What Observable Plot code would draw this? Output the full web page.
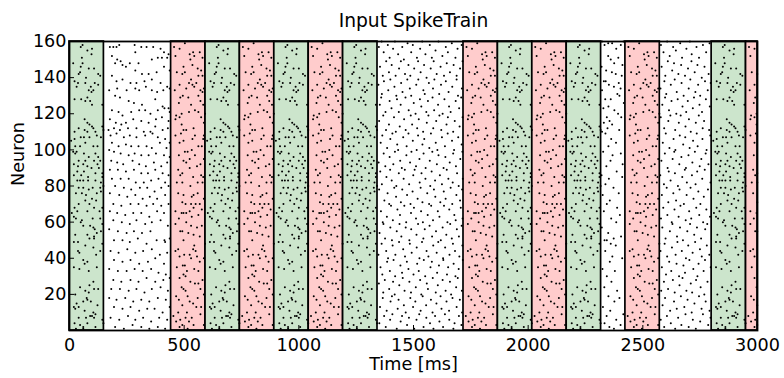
<!DOCTYPE html>
<html><head><meta charset="utf-8">
<script src="https://cdn.jsdelivr.net/npm/d3@7"></script>
<script src="https://cdn.jsdelivr.net/npm/@observablehq/plot@0.6"></script>
<style>body{margin:0;background:#fff}</style>
</head><body><div id="chart"></div>
<script>
const title = "Input SpikeTrain";
const xLabel = "Time [ms]";
const yLabel = "Neuron";
const xTicks = [0, 500, 1000, 1500, 2000, 2500, 3000];
const yTicks = [20, 40, 60, 80, 100, 120, 140, 160];

// pattern bands (ms)
const bandStart = [0, 443, 593, 743, 893, 1043, 1193, 1718, 1868, 2018, 2168, 2424, 2800, 2950];
const bandEnd   = [150, 593, 743, 893, 1043, 1193, 1343, 1868, 2018, 2168, 2318, 2574, 2950, 3000];
const bandKind  = ["green","red","green","red","green","red","green","red","green","red","green","red","green","red"];
const bandColor = {green: "#cce5cc", red: "#ffcccc"};

// repeated spike patterns: [ms from band start, neuron]
const greenPattern = [[57,158],[49,157],[98,156],[78,155],[96,153],[54,151],[16,148],[57,148],[49,146],[84,145],[107,145],[46,143],[40,142],[125,142],[72,140],[134,141],[22,138],[37,137],[69,137],[110,137],[125,136],[31,135],[93,135],[84,133],[104,133],[96,132],[78,129],[22,128],[51,128],[69,127],[90,127],[98,125],[143,125],[66,117],[78,115],[87,114],[98,113],[40,112],[66,111],[104,112],[143,113],[148,111],[22,110],[78,110],[113,110],[49,107],[63,107],[87,107],[119,108],[137,107],[22,106],[7,105],[69,104],[104,102],[25,102],[46,102],[122,102],[16,99],[31,99],[25,98],[63,98],[113,98],[84,96],[125,96],[40,94],[69,94],[107,94],[134,94],[19,92],[60,92],[122,92],[37,91],[78,91],[96,90],[128,90],[34,88],[63,88],[113,87],[143,87],[19,86],[51,86],[81,85],[143,85],[34,83],[46,83],[60,83],[81,83],[113,83],[137,82],
[40,79],[60,79],[84,78],[101,79],[134,79],[148,80],[28,76],[54,76],[72,75],[119,76],[137,77],[98,73],[69,72],[116,72],[87,70],[40,70],[107,68],[22,68],[143,68],[10,65],[34,66],[78,66],[131,66],[19,63],[28,62],[54,61],[101,62],[134,62],[49,60],[60,58],[143,59],[90,58],[104,57],[110,56],[137,55],[25,53],[119,54],[78,53],[107,52],[19,49],[107,51],[87,51],[37,49],[143,48],[69,47],[104,46],[37,44],[43,43],[134,44],[116,42],[60,39],[78,38],[66,37],[19,35],[119,35],[43,34],[84,33],[104,27],[87,25],[46,24],[107,23],[125,23],[84,21],[69,22],[25,20],[75,18],[78,17],[60,16],[93,16],[31,15],[19,13],[122,14],[40,13],[25,12],[66,11],[104,10],[113,9],[90,8],[98,8],[107,7],[40,7],[72,7],[143,6],[148,4],[22,4],[46,3],[78,4],[113,2],[60,2],[28,1],[60,1]];

const redPattern = [[60,159],[13,157],[37,156],[96,154],[81,153],[125,154],[19,152],[101,152],[137,151],[84,150],[93,147],[54,146],[116,145],[131,144],[25,143],[60,143],[49,142],[119,141],[137,141],[87,139],[78,137],[110,137],[93,136],[37,136],[101,135],[143,134],[66,134],[128,133],[16,133],[137,132],[51,130],[40,129],[119,130],[75,129],[128,127],[34,126],[140,125],[87,125],[104,122],[119,121],[78,121],[46,120],[22,119],[37,118],[131,118],[148,120],[19,117],[143,115],[46,114],[66,111],[54,111],[98,112],[43,109],[19,108],[104,108],[143,108],[54,105],[93,106],[140,106],[37,104],[134,102],[119,102],[90,100],[60,99],[72,99],[34,97],[104,97],[81,95],[54,94],[66,93],[143,95],[128,92],[113,91],[81,90],[31,89],[49,87],[40,86],[131,86],[96,85],[140,85],[49,82],[25,82],[116,82],[137,82],[84,80],
[31,76],[54,75],[98,75],[116,76],[90,74],[143,73],[49,71],[63,70],[87,70],[107,70],[125,70],[98,68],[81,66],[134,67],[19,66],[54,65],[46,65],[66,65],[90,63],[119,64],[34,62],[66,60],[87,58],[113,57],[134,58],[19,59],[49,55],[40,55],[75,54],[98,53],[125,52],[54,50],[101,47],[148,48],[31,45],[96,45],[81,42],[107,44],[19,44],[57,42],[37,41],[113,41],[87,40],[125,38],[143,40],[51,36],[60,36],[25,35],[69,33],[101,34],[119,33],[54,31],[63,30],[37,29],[137,28],[84,27],[104,26],[119,26],[46,24],[54,23],[63,22],[128,23],[143,20],[22,19],[72,19],[116,18],[34,17],[81,16],[49,14],[96,15],[110,13],[131,13],[31,10],[69,10],[128,9],[10,8],[63,7],[90,7],[40,6],[78,5],[22,5],[98,3],[143,3],[37,2],[49,3],[72,1]];

// background (noise) spikes between patterns: [ms, neuron]
const noise1 = [[176,157],[191,157],[205,157],[217,158],[284,158],[313,157],[336,157],[365,157],[397,156],[412,154],[432,153],[185,152],[208,150],[223,149],[199,148],[231,147],[263,148],[301,148],[287,154],[359,150],[385,151],[403,151],[426,151],[246,146],[287,144],[316,142],[345,142],[380,143],[412,146],[437,144],[185,141],[205,138],[231,139],[266,137],[292,137],[327,138],[359,139],[397,137],[426,135],[173,133],[208,134],[249,133],[287,134],[304,133],[333,135],[359,133],[382,132],[409,133],[437,134],
[199,130],[220,129],[258,127],[281,126],[316,125],[374,128],[406,124],[432,123],[185,122],[214,121],[231,119],[269,121],[304,122],[330,122],[353,120],[385,122],[414,123],[437,121],[176,117],[202,115],[226,114],[246,115],[278,117],[313,116],[345,115],[377,117],[403,118],[432,116],[170,111],[194,112],[220,111],[255,112],[292,112],[324,110],[353,110],[374,113],[406,111],[429,112],
[179,108],[205,109],[237,107],[263,108],[292,107],[330,108],[362,109],[385,107],[417,106],[437,104],[185,104],[214,102],[246,103],[269,102],[301,102],[336,102],[359,101],[394,104],[423,101],[173,100],[194,99],[223,98],[258,97],[284,98],[313,97],[345,97],[377,98],[412,97],[437,96],[182,94],[208,93],[234,92],[275,94],[304,92],[333,91],[368,93],[400,91],[426,93],
[176,89],[211,89],[246,88],[281,89],[313,87],[342,87],[374,89],[406,87],[432,86],[185,84],[223,84],[258,84],[289,82],[324,82],[356,83],[388,84],[417,82],[199,80],[237,79],[269,78],[307,79],[339,79],[371,77],[400,79],[432,80],[176,76],[217,75],[252,74],[287,75],[319,73],[350,74],[382,73],[417,75],[191,70],[226,69],[266,70],[301,70],[336,69],[365,70],[400,69],[432,70],
[176,66],[208,65],[243,64],[278,65],[313,65],[348,63],[382,66],[412,65],[191,61],[228,60],[263,59],[292,61],[330,59],[359,60],[397,61],[429,58],[173,56],[211,55],[249,54],[281,55],[316,54],[353,55],[417,49],[414,50],[194,50],[231,50],[263,49],[298,51],[336,48],[380,50],[437,51],
[179,44],[214,43],[252,45],[287,43],[321,44],[359,45],[394,42],[426,43],[194,39],[231,38],[266,39],[304,37],[342,38],[374,40],[412,37],[173,34],[211,33],[249,33],[284,34],[319,33],[356,34],[388,32],[420,31],[191,28],[226,27],[266,28],[301,27],[336,29],[374,27],[409,28],[437,29],[182,23],[220,23],[258,22],[292,23],[327,21],[359,23],[397,24],[429,22],
[173,18],[205,17],[243,18],[278,16],[313,17],[348,16],[385,18],[420,17],[194,13],[231,12],[266,13],[304,11],[339,12],[371,12],[406,10],[437,13],[179,7],[217,6],[255,8],[287,6],[321,7],[356,5],[391,7],[426,6],[199,2],[237,1],[275,3],[313,2],[348,1],[385,2],[417,1]];

const noise2 = [[1349,157],[1361,160],[1370,154],[1388,158],[1396,151],[1411,156],[1419,160],[1433,153],[1451,157],[1458,150],[1474,159],[1490,154],[1497,158],[1515,151],[1529,156],[1538,160],[1552,153],[1571,158],[1580,151],[1596,155],[1609,160],[1626,152],[1641,157],[1650,154],[1667,159],[1683,151],[1692,156],[1710,158],
[1354,146],[1366,141],[1381,149],[1393,143],[1405,147],[1422,141],[1437,145],[1445,149],[1463,142],[1478,147],[1486,141],[1503,145],[1520,149],[1531,143],[1546,147],[1557,140],[1575,145],[1588,149],[1601,142],[1618,146],[1633,141],[1645,148],[1659,143],[1675,147],[1688,141],[1703,145],[1714,149],
[1347,136],[1362,131],[1371,138],[1390,133],[1399,139],[1417,135],[1425,130],[1446,137],[1452,132],[1473,139],[1484,134],[1490,130],[1512,136],[1521,139],[1543,133],[1549,131],[1567,137],[1585,134],[1591,139],[1612,131],[1620,136],[1641,138],[1653,132],[1669,135],[1688,139],[1694,130],[1711,134],
[1353,125],[1359,129],[1378,121],[1396,127],[1404,123],[1428,128],[1436,121],[1444,125],[1465,129],[1479,122],[1501,126],[1509,120],[1528,128],[1534,124],[1556,121],[1563,127],[1583,129],[1590,122],[1607,125],[1627,120],[1635,128],[1655,124],[1662,121],[1684,127],[1699,123],[1708,129],
[1350,116],[1368,119],[1380,111],[1393,114],[1415,118],[1423,110],[1440,113],[1459,117],[1466,111],[1488,119],[1494,114],[1516,112],[1523,117],[1542,110],[1558,115],[1565,119],[1586,112],[1599,116],[1613,119],[1621,111],[1644,114],[1650,118],[1673,110],[1680,116],[1701,113],[1714,118],
[1357,104],[1364,108],[1385,101],[1399,106],[1408,109],[1429,103],[1433,100],[1455,107],[1470,102],[1478,109],[1497,105],[1514,100],[1520,108],[1539,103],[1547,106],[1569,101],[1576,109],[1597,104],[1604,100],[1624,107],[1637,102],[1649,109],[1668,105],[1677,100],[1695,107],[1710,103],
[1348,93],[1370,98],[1377,91],[1396,96],[1412,92],[1419,99],[1442,94],[1449,90],[1469,97],[1485,93],[1491,99],[1511,91],[1526,95],[1544,98],[1553,90],[1571,94],[1582,99],[1602,92],[1609,97],[1631,90],[1639,96],[1658,93],[1673,98],[1685,91],[1704,95],[1713,99],
[1355,88],[1362,81],[1382,85],[1398,89],[1405,83],[1425,80],[1436,87],[1457,84],[1462,89],[1481,81],[1499,86],[1505,89],[1527,82],[1535,87],[1552,84],[1573,80],[1579,88],[1594,83],[1615,86],[1624,81],[1645,89],[1652,84],[1671,82],[1690,87],[1697,80],[1715,84],
[1350,78],[1373,72],[1387,76],[1394,70],[1416,79],[1424,74],[1445,71],[1451,78],[1472,75],[1487,70],[1496,77],[1518,73],[1531,79],[1539,71],[1560,76],[1568,70],[1589,78],[1595,74],[1617,71],[1632,77],[1640,73],[1662,79],[1669,70],[1687,75],[1703,72],[1712,78],
[1358,66],[1366,60],[1384,63],[1402,69],[1410,61],[1430,67],[1441,64],[1460,69],[1468,60],[1489,65],[1502,68],[1511,62],[1533,66],[1541,60],[1562,64],[1577,69],[1585,61],[1606,66],[1613,63],[1633,69],[1648,60],[1656,67],[1678,64],[1684,61],[1706,68],[1714,62],
[1352,54],[1369,59],[1376,51],[1399,57],[1406,50],[1427,55],[1439,59],[1447,52],[1466,57],[1482,50],[1490,56],[1513,53],[1520,59],[1543,51],[1549,56],[1570,58],[1581,52],[1598,55],[1619,50],[1627,57],[1643,53],[1660,59],[1667,51],[1689,56],[1698,52],[1710,58],
[1347,42],[1361,48],[1381,44],[1389,40],[1409,47],[1421,42],[1437,49],[1455,45],[1463,41],[1484,48],[1492,43],[1514,46],[1526,40],[1537,49],[1557,44],[1565,41],[1586,47],[1601,43],[1608,49],[1629,40],[1638,46],[1657,42],[1672,48],[1681,44],[1700,41],[1713,47],
[1356,35],[1364,31],[1385,38],[1397,33],[1413,39],[1420,30],[1443,36],[1450,32],[1471,38],[1478,34],[1500,31],[1516,37],[1523,33],[1545,39],[1551,30],[1574,35],[1580,38],[1603,32],[1611,36],[1630,39],[1646,31],[1651,35],[1675,37],[1683,30],[1697,34],[1715,39],
[1349,26],[1368,21],[1375,28],[1394,23],[1411,27],[1418,20],[1438,25],[1453,29],[1461,22],[1482,27],[1489,21],[1510,24],[1529,28],[1534,20],[1558,26],[1563,23],[1584,29],[1597,21],[1606,25],[1627,28],[1640,22],[1659,27],[1664,20],[1686,24],[1693,29],[1711,22],
[1354,13],[1366,18],[1383,11],[1400,16],[1406,19],[1431,12],[1435,17],[1458,14],[1466,10],[1486,18],[1498,13],[1508,16],[1531,11],[1540,19],[1555,14],[1576,17],[1583,10],[1600,15],[1618,19],[1622,12],[1644,16],[1655,11],[1670,18],[1688,13],[1702,17],[1712,10],
[1351,4],[1372,8],[1379,2],[1398,6],[1408,9],[1427,1],[1444,5],[1450,8],[1472,3],[1480,7],[1503,1],[1513,6],[1525,9],[1544,2],[1556,7],[1572,4],[1587,1],[1594,8],[1613,5],[1629,2],[1637,9],[1656,6],[1674,1],[1679,4],[1698,8],[1709,3]];

const noise3 = [[2322,160],[2333,158],[2349,159],[2366,159],[2384,156],[2404,158],[2416,160],[2349,152],[2360,150],[2375,148],[2393,151],[2411,147],[2340,144],[2365,143],[2382,142],[2408,141],[2330,138],[2395,137],[2374,135],[2338,138],[2352,136],[2322,133],[2403,134],[2389,131],[2398,130],[2336,128],[2360,128],[2417,126],[2350,124],[2328,123],[2376,122],[2392,120],[2343,118],[2355,116],[2330,115],[2366,114],[2346,112],[2322,110],[2337,109],[2397,111],[2362,106],[2383,104],[2350,102],[2327,99],[2368,97],[2404,98],[2359,94],[2341,91],[2386,88],[2320,86],[2352,84],[2410,85],[2337,81],[2372,79],[2395,76],[2325,75],[2356,72],[2343,70],[2388,68],[2330,66],[2362,62],[2384,60],[2321,57],[2349,54],[2373,51],[2333,50],[2343,50],[2360,48],[2382,47],[2405,52],[2336,44],[2367,41],[2356,38],[2324,34],[2378,33],[2343,30],[2363,27],[2332,24],[2388,22],[2350,19],[2376,16],[2326,13],[2358,11],[2342,8],[2384,6],[2333,4],[2354,2],[2374,1],[2403,3],[2415,9],[2398,18],[2410,40],[2400,64],[2412,92],[2406,118],[2320,146]];

const noise4 = [[2579,158],[2590,154],[2606,160],[2617,152],[2632,157],[2644,155],[2663,159],[2671,151],[2690,156],[2705,160],[2713,153],[2734,157],[2745,151],[2762,158],[2776,154],[2791,159],
[2582,146],[2598,141],[2609,149],[2628,144],[2636,148],[2655,142],[2667,147],[2684,141],[2697,145],[2712,149],[2726,143],[2738,147],[2757,140],[2769,146],[2787,142],
[2577,134],[2594,138],[2602,131],[2622,136],[2639,139],[2648,132],[2669,137],[2678,130],[2700,134],[2707,139],[2729,132],[2741,136],[2750,130],[2771,138],[2783,133],[2796,137],
[2585,125],[2597,129],[2614,122],[2625,127],[2646,120],[2652,128],[2673,124],[2689,121],[2696,127],[2718,123],[2723,129],[2747,125],[2758,121],[2775,128],[2792,124],
[2578,118],[2593,112],[2611,116],[2620,119],[2641,111],[2657,115],[2665,119],[2686,113],[2701,117],[2709,110],[2731,115],[2744,119],[2761,112],[2767,116],[2789,111],
[2587,104],[2600,109],[2616,101],[2634,106],[2642,100],[2661,108],[2676,103],[2685,107],[2704,101],[2719,105],[2735,109],[2739,102],[2760,106],[2778,100],[2794,108],
[2581,94],[2596,98],[2608,90],[2630,95],[2637,99],[2659,92],[2668,96],[2688,90],[2699,97],[2716,93],[2727,99],[2748,91],[2755,95],[2774,98],[2786,92],
[2576,86],[2592,81],[2613,88],[2621,83],[2640,87],[2653,80],[2672,85],[2683,89],[2692,82],[2714,86],[2730,81],[2737,88],[2759,84],[2770,89],[2795,82],
[2583,75],[2604,79],[2611,71],[2633,76],[2645,72],[2660,78],[2679,70],[2691,75],[2708,79],[2721,73],[2742,77],[2751,70],[2766,74],[2784,78],
[2579,62],[2589,68],[2607,64],[2626,60],[2638,67],[2656,63],[2664,69],[2687,61],[2702,66],[2711,62],[2733,68],[2746,64],[2763,60],[2777,67],[2793,63],
[2585,57],[2599,51],[2618,55],[2629,59],[2649,52],[2662,57],[2675,50],[2694,55],[2706,59],[2724,53],[2736,57],[2754,51],[2772,56],[2781,59],
[2577,44],[2595,48],[2606,41],[2627,46],[2643,42],[2651,49],[2670,44],[2688,40],[2698,47],[2717,43],[2728,49],[2749,45],[2757,41],[2779,47],[2790,42],
[2583,35],[2601,31],[2615,38],[2624,33],[2647,37],[2658,30],[2677,36],[2684,32],[2703,39],[2720,34],[2738,30],[2743,37],[2765,33],[2771,39],[2796,35],
[2580,22],[2592,27],[2610,23],[2631,28],[2639,21],[2660,25],[2673,29],[2690,22],[2709,26],[2715,21],[2732,28],[2752,24],[2768,20],[2782,27],
[2586,14],[2597,18],[2619,11],[2636,16],[2648,12],[2666,19],[2681,13],[2695,17],[2713,10],[2725,15],[2745,19],[2756,12],[2774,16],[2791,11],
[2578,6],[2593,2],[2605,8],[2622,4],[2641,1],[2654,7],[2668,3],[2686,9],[2700,2],[2718,6],[2731,1],[2750,5],[2762,9],[2785,3],[2795,7]];

// ---- build tables ----
const bands = bandStart.map((s, i) => ({start: s, end: bandEnd[i], kind: bandKind[i]}));
const spikes = [];
bands.forEach(b => {
  const pat = b.kind === "green" ? greenPattern : redPattern;
  pat.forEach(([t, n]) => { if (b.start + t <= b.end) spikes.push({t: b.start + t, n}); });
});
[noise1, noise2, noise3, noise4].forEach(arr => arr.forEach(([t, n]) => spikes.push({t, n})));

const W = 784, H = 378, mL = 69, mR = 27, mT = 41, mB = 48;
const innerW = W - mL - mR, innerH = H - mT - mB, tickLen = 5;
const font = "DejaVu Sans, sans-serif", fs = 17.6, fsTitle = 18.7;

const chart = Plot.plot({
  width: W, height: H,
  marginLeft: mL, marginRight: mR, marginTop: mT, marginBottom: mB,
  style: {fontFamily: font, fontSize: fs + "px", background: "#fff", color: "#000", overflow: "visible"},
  x: {domain: [0, 3000]},
  y: {domain: [0, 160]},
  marks: [
    Plot.rect(bands, {x1: "start", x2: "end", fill: d => bandColor[d.kind], stroke: "#000", strokeWidth: 1.7}),
    Plot.dot(spikes, {x: "t", y: "n", r: 1, fill: "#000", stroke: null}),
    Plot.tickX(xTicks, {x: d => d, insetTop: innerH - tickLen, stroke: "#000"}),
    Plot.tickY(yTicks, {y: d => d, insetRight: innerW - tickLen, stroke: "#000"}),
    Plot.axisX({ticks: xTicks, tickSize: 0, tickPadding: 8, label: null, fontSize: fs, tickFormat: d => String(d)}),
    Plot.axisY({ticks: yTicks, tickSize: 0, tickPadding: 3, label: null, fontSize: fs, tickFormat: d => String(d)}),
    Plot.frame({stroke: "#000", strokeWidth: 1.8}),
    Plot.text([title], {frameAnchor: "top", dy: -20, lineAnchor: "middle", fontSize: fsTitle, text: d => d, fill: "#000"}),
    Plot.text([xLabel], {frameAnchor: "bottom", dy: 34, lineAnchor: "middle", fontSize: fs, text: d => d, fill: "#000"}),
    Plot.text([yLabel], {frameAnchor: "left", dx: -51, rotate: -90, lineAnchor: "middle", fontSize: fs, text: d => d, fill: "#000"})
  ]
});
document.getElementById("chart").appendChild(chart);
</script>
</body></html>
